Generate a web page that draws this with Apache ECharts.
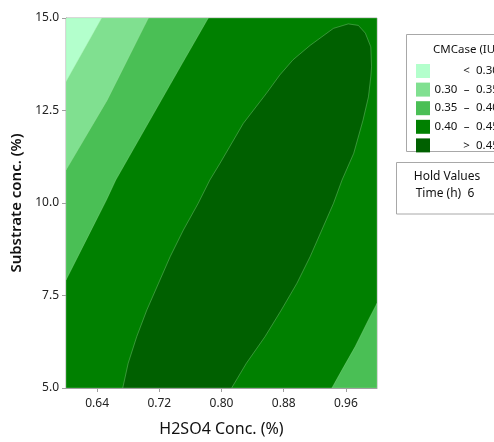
<!DOCTYPE html>
<html>
<head>
<meta charset="utf-8">
<script src="https://cdn.jsdelivr.net/npm/echarts@6/dist/echarts.min.js"></script>
<style>
  html, body { margin: 0; padding: 0; background: #fff; }
  #chart { width: 494px; height: 442px; }
</style>
</head>
<body>
<div id="chart"></div>
<script>
  // axis extents and tick labels
  const xRange = [0.6, 1.0];
  const yRange = [5, 15];
  const xTicks = [0.64, 0.72, 0.80, 0.88, 0.96];

  // contour levels (legend order)
  const levels = ['< 0.30', '0.30 – 0.35', '0.35 – 0.40', '0.40 – 0.45', '> 0.45'];
  const levelColors = ['#b3ffcc', '#80e090', '#4abf55', '#008000', '#006000'];

  // contour boundaries, [H2SO4, substrate]
  const bandLow = [[0.6, 15], [0.646, 15], [0.6, 13.28]];
  const band30 = [[0.6, 15], [0.706, 15], [0.653, 12.78], [0.6, 10.89]];
  const band35Left = [[0.6, 15], [0.783, 15], [0.747, 13.68], [0.664, 10.62], [0.652, 10.08], [0.6, 7.92]];
  const band35Right = [[0.942, 5], [0.955, 5.49], [0.972, 6.12], [0.989, 6.84], [1.0, 7.29], [1.0, 5]];
  const peak45 = [
    [0.673, 5.0], [0.680, 5.67], [0.691, 6.39], [0.704, 7.11], [0.719, 7.83], [0.734, 8.55],
    [0.751, 9.27], [0.770, 9.99], [0.785, 10.62], [0.798, 11.07], [0.828, 12.15], [0.858, 12.97],
    [0.875, 13.46], [0.892, 13.87], [0.914, 14.26], [0.944, 14.72], [0.963, 14.84],
    [0.976, 14.80], [0.985, 14.59], [0.992, 14.22], [0.993, 13.68], [0.992, 13.41], [0.989, 12.87],
    [0.982, 12.24], [0.970, 11.34], [0.955, 10.62], [0.944, 9.99], [0.929, 9.27], [0.914, 8.55],
    [0.897, 7.83], [0.877, 7.11], [0.856, 6.39], [0.832, 5.67], [0.813, 5.0]
  ];
  const fullArea = [[xRange[0], yRange[0]], [xRange[1], yRange[0]], [xRange[1], yRange[1]], [xRange[0], yRange[1]]];

  const legendParts = {
    '< 0.30': ['', '<', '0.30'],
    '0.30 – 0.35': ['0.30', '–', '0.35'],
    '0.35 – 0.40': ['0.35', '–', '0.40'],
    '0.40 – 0.45': ['0.40', '–', '0.45'],
    '> 0.45': ['', '>', '0.45'],
  };

  const font = '"Noto Sans", "Open Sans", sans-serif';
  const chart = echarts.init(document.getElementById('chart'));

  function regionSeries(level, polys, z) {
    const color = levelColors[levels.indexOf(level)];
    return {
      type: 'custom',
      name: level,
      coordinateSystem: 'cartesian2d',
      clip: true,
      z: z,
      silent: true,
      itemStyle: { color: color },
      data: polys[0],
      renderItem(params, api) {
        if (params.dataIndex !== 0) {
          return null;
        }
        return {
          type: 'group',
          children: polys.map((poly) => ({
            type: 'polygon',
            shape: { points: poly.map((pt) => api.coord(pt)) },
            style: { fill: color, stroke: 'rgba(170,230,170,0.55)', lineWidth: 0.6 },
          })),
        };
      },
    };
  }

  chart.setOption({
    backgroundColor: '#fff',
    animation: false,
    textStyle: { fontFamily: font },
    grid: {
      left: 66, top: 18, right: 117, bottom: 54,
      show: true, borderColor: '#b0b0b0', borderWidth: 1, backgroundColor: 'transparent',
    },
    xAxis: {
      type: 'value',
      min: xRange[0],
      max: xRange[1],
      name: 'H2SO4 Conc. (%)',
      nameLocation: 'middle',
      nameGap: 33,
      nameTextStyle: { fontSize: 16, color: '#111', fontFamily: font },
      splitLine: { show: false },
      axisLine: { show: true, lineStyle: { color: '#a0a0a0' } },
      axisTick: { show: true, length: 4, customValues: xTicks, lineStyle: { color: '#a0a0a0' } },
      axisLabel: {
        customValues: xTicks,
        margin: 10,
        fontSize: 12,
        color: '#222',
        formatter: (v) => v.toFixed(2),
      },
    },
    yAxis: {
      type: 'value',
      min: yRange[0],
      max: yRange[1],
      interval: 2.5,
      name: 'Substrate conc. (%)',
      nameLocation: 'middle',
      nameGap: 40,
      nameTextStyle: { fontSize: 15, color: '#111', fontWeight: 600, fontFamily: font },
      splitLine: { show: false },
      axisLine: { show: true, lineStyle: { color: '#a0a0a0' } },
      axisTick: { show: true, length: 4, lineStyle: { color: '#a0a0a0' } },
      axisLabel: {
        margin: 7,
        fontSize: 12,
        color: '#222',
        formatter: (v) => v.toFixed(1),
      },
    },
    legend: {
      orient: 'vertical',
      left: 411,
      top: 59,
      itemWidth: 14,
      itemHeight: 14,
      itemGap: 4.6,
      icon: 'rect',
      selectedMode: false,
      data: levels,
      formatter: (name) => {
        const p = legendParts[name];
        return `{lo|${p[0]}}{sep|${p[1]}}{hi|${p[2]}}`;
      },
      textStyle: {
        fontSize: 11.5,
        color: '#111',
        rich: {
          lo: { width: 22, align: 'right', fontSize: 11.5, fontFamily: font },
          sep: { width: 19, align: 'center', fontSize: 11.5, fontFamily: font },
          hi: { align: 'left', fontSize: 11.5, fontFamily: font },
        },
      },
    },
    graphic: [
      {
        type: 'rect',
        shape: { x: 406.5, y: 34.5, width: 120, height: 117 },
        style: { fill: 'none', stroke: '#a8a8a8', lineWidth: 1 },
      },
      {
        type: 'text',
        x: 433, y: 50,
        style: { text: 'CMCase (IU)', fontSize: 11.5, fill: '#111', fontFamily: font, align: 'left', verticalAlign: 'middle' },
      },
      {
        type: 'rect',
        shape: { x: 396.5, y: 162.5, width: 120, height: 51.5 },
        style: { fill: 'none', stroke: '#a8a8a8', lineWidth: 1 },
      },
      {
        type: 'text',
        x: 447, y: 177,
        style: { text: 'Hold Values', fontSize: 12, fill: '#111', fontFamily: font, align: 'center', verticalAlign: 'middle' },
      },
      {
        type: 'text',
        x: 445, y: 194,
        style: { text: 'Time (h)  6', fontSize: 12, fill: '#111', fontFamily: font, align: 'center', verticalAlign: 'middle' },
      },
    ],
    series: [
      regionSeries('0.40 – 0.45', [fullArea], 1),
      regionSeries('0.35 – 0.40', [band35Left, band35Right], 2),
      regionSeries('0.30 – 0.35', [band30], 3),
      regionSeries('< 0.30', [bandLow], 4),
      regionSeries('> 0.45', [peak45], 5),
    ],
  });
</script>
</body>
</html>
